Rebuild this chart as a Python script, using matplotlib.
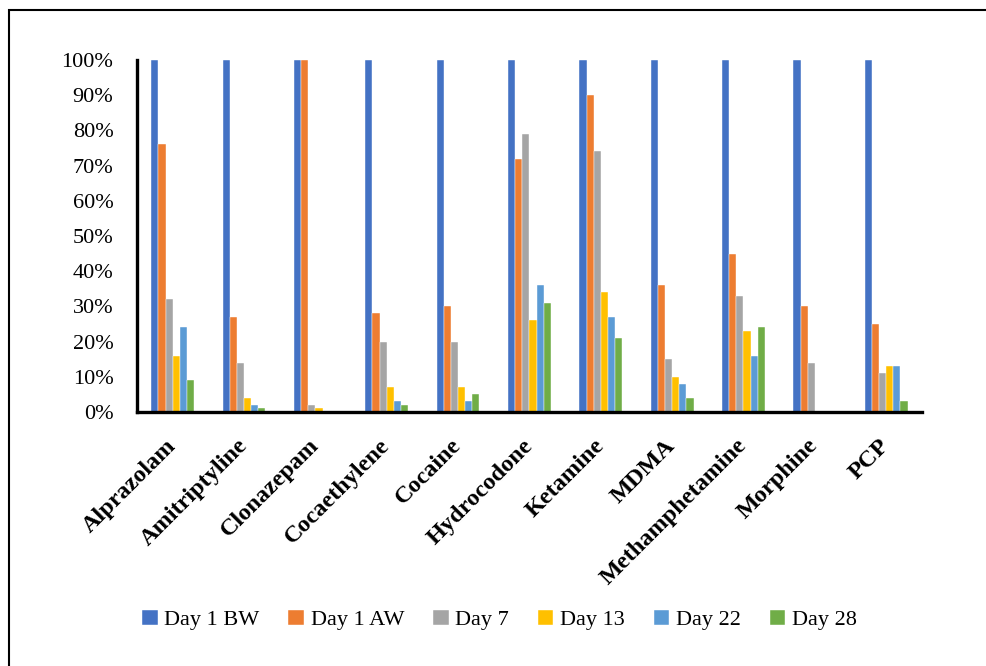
import numpy as np
import matplotlib.pyplot as plt
from matplotlib.patches import Rectangle
from matplotlib.ticker import PercentFormatter

drugs = ["Alprazolam", "Amitriptyline", "Clonazepam", "Cocaethylene", "Cocaine",
         "Hydrocodone", "Ketamine", "MDMA", "Methamphetamine", "Morphine", "PCP"]
series_names = ["Day 1 BW", "Day 1 AW", "Day 7", "Day 13", "Day 22", "Day 28"]

day1_bw = [100, 100, 100, 100, 100, 100, 100, 100, 100, 100, 100]
day1_aw = [76, 27, 100, 28, 30, 72, 90, 36, 45, 30, 25]
day7 = [32, 14, 2, 20, 20, 79, 74, 15, 33, 14, 11]
day13 = [16, 4, 1, 7, 7, 26, 34, 10, 23, 0, 13]
day22 = [24, 2, 0, 3, 3, 36, 27, 8, 16, 0, 13]
day28 = [9, 1, 0, 2, 5, 31, 21, 4, 24, 0, 3]

colors = ["#4472C4", "#ED7D31", "#A5A5A5", "#FFC000", "#5B9BD5", "#70AD47"]

plt.rcParams['font.family'] = ['Liberation Serif', 'DejaVu Serif']

fig = plt.figure(figsize=(9.87, 6.66), dpi=100)
ax = fig.add_axes([0.1388, 0.3814, 0.7952, 0.5286])

all_series = [day1_bw, day1_aw, day7, day13, day22, day28]
x = np.arange(len(drugs))
width = 0.1
for i, (vals, name, c) in enumerate(zip(all_series, series_names, colors)):
    offset = (i - 2.5) * width
    ax.bar(x + offset, np.array(vals) / 100, width, color=c, label=name,
           edgecolor='white', linewidth=0.3)

ax.set_xlim(-0.5, len(drugs) - 0.5)
ax.set_ylim(0, 1)
ax.set_yticks(np.arange(0, 1.01, 0.1))
ax.yaxis.set_major_formatter(PercentFormatter(1.0, decimals=0))
ax.tick_params(axis='y', length=0, pad=17, labelsize=16)
ax.tick_params(axis='x', length=0, pad=22)
ax.set_xticks(x)
ax.set_xticklabels(drugs, rotation=45, ha='right', va='center',
                   rotation_mode='anchor', fontsize=17.5, fontweight='bold')

for side in ['top', 'right']:
    ax.spines[side].set_visible(False)
for side in ['left', 'bottom']:
    ax.spines[side].set_linewidth(2.4)
    ax.spines[side].set_color('black')

fig.legend(loc='center', bbox_to_anchor=(0.506, 0.069), ncol=6, frameon=False,
           fontsize=16, handlelength=0.7, handleheight=0.7, handletextpad=0.3,
           columnspacing=1.3)

# outer frame around the chart area
fig.patches.append(Rectangle((9 / 987, -0.1), 1.2, 1 - 10 / 666 + 0.1,
                             transform=fig.transFigure, fill=False,
                             edgecolor='black', linewidth=1.5))

fig.savefig('out.png', dpi=100)
